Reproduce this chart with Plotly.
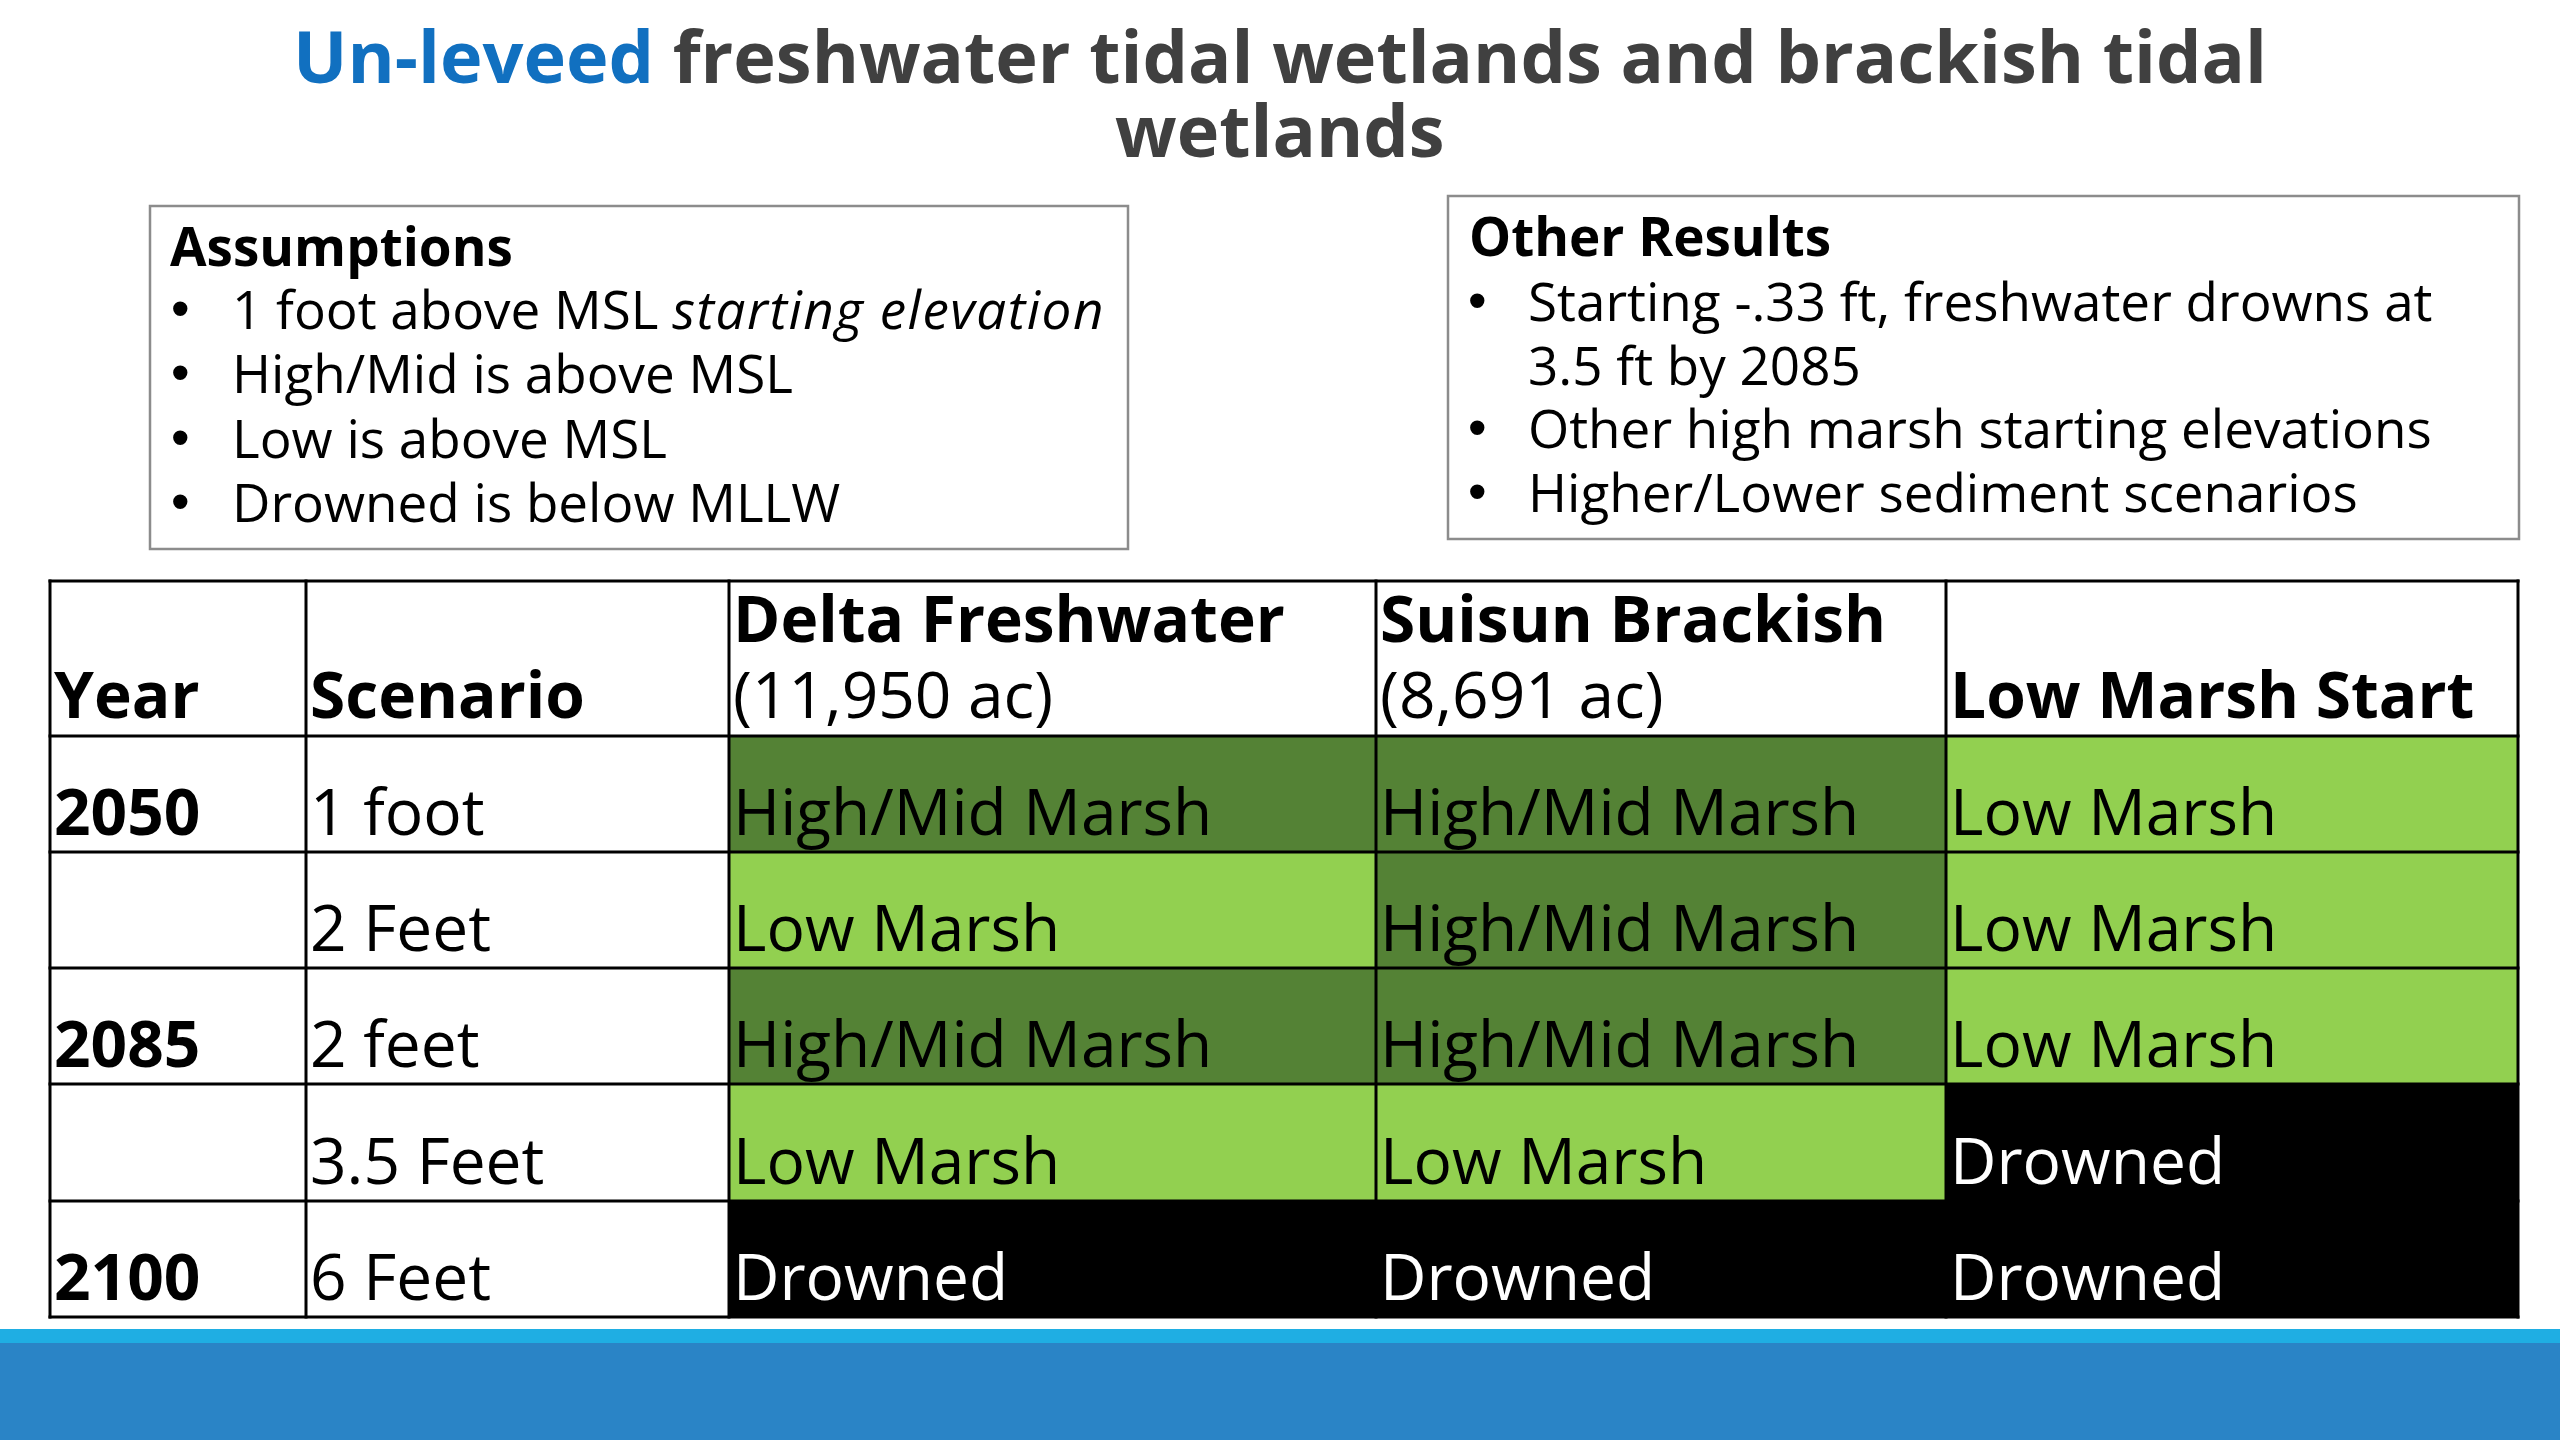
import plotly.graph_objects as go

# ---------------- data ----------------
title_highlight = "Un-leveed"
title_line1_rest = "freshwater tidal wetlands and brackish tidal"
title_line2 = "wetlands"

assumptions_title = "Assumptions"
assumptions_bullets = ["•", "•", "•", "•"]
assumptions_items = [
    '1 foot above MSL <i><span style="letter-spacing:1.5px">starting elevation</span></i>',
    "High/Mid is above MSL",
    "Low is above MSL",
    "Drowned is below MLLW",
]

other_title = "Other Results"
other_bullets = ["•", "", "•", "•"]
other_items = [
    "Starting -.33 ft, freshwater drowns at",
    "3.5 ft by 2085",
    "Other high marsh starting elevations",
    "Higher/Lower sediment scenarios",
]

header_line1 = ["", "", "Delta Freshwater", "Suisun Brackish", ""]
header_line2 = ["Year", "Scenario", "(11,950 ac)", "(8,691 ac)", "Low Marsh Start"]
header_line2_bold = [True, True, False, False, True]

years = ["2050", "", "2085", "", "2100"]
scenarios = ["1 foot", "2 Feet", "2 feet", "3.5 Feet", "6 Feet"]
delta_freshwater = ["High/Mid Marsh", "Low Marsh", "High/Mid Marsh", "Low Marsh", "Drowned"]
suisun_brackish = ["High/Mid Marsh", "High/Mid Marsh", "High/Mid Marsh", "Low Marsh", "Drowned"]
low_marsh_start = ["Low Marsh", "Low Marsh", "Low Marsh", "Drowned", "Drowned"]

outcome_code = {"High/Mid Marsh": 1, "Low Marsh": 2, "Drowned": 3}

# ---------------- layout / style ----------------
W, H = 2560, 1440
FONT = "Open Sans"
BULLET_FONT = "Liberation Sans"
TITLE_SIZE = 72
BOX_SIZE = 53
TABLE_SIZE = 64
BLUE_TITLE = "#1170C0"
GRAY_TITLE = "#404040"
DARK_GREEN = "#548235"
LIGHT_GREEN = "#92D050"
BOX_LINE = "#8C8C8C"

col_edges = [50, 306, 729, 1376, 1946, 2518]
row_edges = [581, 736, 852, 968, 1084, 1201, 1317]
text_pad = 2


def mid(baseline, size):
    # convert a text baseline into the vertical middle of plotly's text box
    return baseline - 0.388 * size


def label(x, baseline, text, size, color="black", bold=False, xanchor="left", family=FONT):
    if bold:
        text = "<b>" + text + "</b>"
    return dict(
        x=x, y=mid(baseline, size), xref="x", yref="y", text=text,
        showarrow=False, xanchor=xanchor, yanchor="middle", align="left",
        font=dict(family=family, size=size, color=color),
    )


fig = go.Figure()

# table cells (heatmap with non-uniform bins)
columns = [delta_freshwater, suisun_brackish, low_marsh_start]
z = [[0, 0, 0, 0, 0]]
for i in range(len(scenarios)):
    z.append([0, 0] + [outcome_code[c[i]] for c in columns])

fig.add_trace(go.Heatmap(
    x=col_edges, y=row_edges, z=z, zmin=0, zmax=3,
    colorscale=[[0, "#FFFFFF"], [1 / 3, DARK_GREEN], [2 / 3, LIGHT_GREEN], [1, "#000000"]],
    showscale=False, hoverinfo="skip", xgap=0, ygap=0,
))

# grid lines
gx, gy = [], []
for r in row_edges:
    gx += [col_edges[0] - 1.5, col_edges[-1] + 1.5, None]
    gy += [r, r, None]
for c in col_edges:
    gx += [c, c, None]
    gy += [row_edges[0] - 1.5, row_edges[-1] + 1.5, None]
fig.add_trace(go.Scatter(x=gx, y=gy, mode="lines", line=dict(color="black", width=3),
                         hoverinfo="skip", showlegend=False))

annotations = []

# title
annotations.append(dict(
    x=1280, y=mid(83, TITLE_SIZE), xref="x", yref="y", showarrow=False,
    xanchor="center", yanchor="middle",
    text=f'<b><span style="color:{BLUE_TITLE}">{title_highlight}</span> {title_line1_rest}</b>',
    font=dict(family=FONT, size=TITLE_SIZE, color=GRAY_TITLE),
))
annotations.append(dict(
    x=1280, y=mid(157, TITLE_SIZE), xref="x", yref="y", showarrow=False,
    xanchor="center", yanchor="middle",
    text=f"<b>{title_line2}</b>",
    font=dict(family=FONT, size=TITLE_SIZE, color=GRAY_TITLE),
))

# text boxes
shapes = []
assump_box = (150, 206, 1128, 549)
other_box = (1448, 196, 2519, 539)
for (x0, y0, x1, y1) in (assump_box, other_box):
    shapes.append(dict(type="rect", xref="x", yref="y", x0=x0, y0=y0, x1=x1, y1=y1,
                       line=dict(color=BOX_LINE, width=2.5), fillcolor="rgba(0,0,0,0)"))

annotations.append(label(168, 266, assumptions_title, BOX_SIZE, bold=True))
for k, (b, t) in enumerate(zip(assumptions_bullets, assumptions_items)):
    bl = 329 + k * 64.3
    if b:
        annotations.append(label(180, bl, b, BOX_SIZE, xanchor="center", family=BULLET_FONT))
    annotations.append(label(230, bl, t, BOX_SIZE))

annotations.append(label(1467, 256, other_title, BOX_SIZE, bold=True))
for k, (b, t) in enumerate(zip(other_bullets, other_items)):
    bl = 321 + k * 63.7
    if b:
        annotations.append(label(1477, bl, b, BOX_SIZE, xanchor="center", family=BULLET_FONT))
    annotations.append(label(1526, bl, t, BOX_SIZE))

# header cells
hb = row_edges[1]
for j in range(5):
    x = col_edges[j] + text_pad
    if header_line1[j]:
        annotations.append(label(x, hb - 94, header_line1[j], TABLE_SIZE, bold=True))
    annotations.append(label(x, hb - 18, header_line2[j], TABLE_SIZE, bold=header_line2_bold[j]))

# body cells
for i in range(len(scenarios)):
    bl = row_edges[i + 2] - 17
    if years[i]:
        annotations.append(label(col_edges[0] + text_pad, bl, years[i], TABLE_SIZE, bold=True))
    annotations.append(label(col_edges[1] + text_pad, bl, scenarios[i], TABLE_SIZE))
    for j, col in enumerate(columns):
        val = col[i]
        color = "white" if val == "Drowned" else "black"
        annotations.append(label(col_edges[j + 2] + text_pad, bl, val, TABLE_SIZE, color=color))

# footer bar
shapes.append(dict(type="rect", xref="x", yref="y", x0=0, x1=W, y0=1329, y1=1344,
                   line=dict(width=0), fillcolor="#1FAEE3", layer="above"))
shapes.append(dict(type="rect", xref="x", yref="y", x0=0, x1=W, y0=1343, y1=H,
                   line=dict(width=0), fillcolor="#2A84C6", layer="above"))

fig.update_layout(
    width=W, height=H,
    margin=dict(l=0, r=0, t=0, b=0, pad=0),
    paper_bgcolor="white", plot_bgcolor="white",
    xaxis=dict(range=[0, W], visible=False, fixedrange=True),
    yaxis=dict(range=[H, 0], visible=False, fixedrange=True),
    showlegend=False,
    annotations=annotations,
    shapes=shapes,
    font=dict(family=FONT),
)

fig.write_html(
    "out.html",
    config={"displayModeBar": False},
    post_script="document.body.style.margin='0';document.body.style.overflow='hidden';",
)
